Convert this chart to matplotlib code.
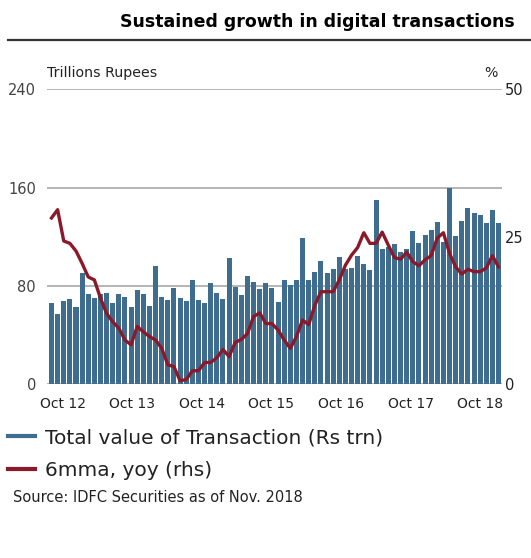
import numpy as np
import matplotlib
matplotlib.use("Agg")
import matplotlib.pyplot as plt
from matplotlib.lines import Line2D

# ---- data ----
total_value = [66, 57, 68, 69.5, 63, 90.6, 73.5, 70, 73.5, 74.3, 66, 73.5, 71,
               63, 76.7, 73.5, 63.7, 96, 71, 68.6, 78.4, 70, 68, 84.9, 68.6,
               66, 82.4, 74.3, 69.5, 102.7, 79.2, 72.7, 88.1, 83.2, 77.5, 82.4,
               78.4, 67, 84.9, 80.8, 84.9, 119, 84.9, 91.4, 100.3, 90.6, 93.9,
               103.6, 93.9, 94.6, 104.4, 97.9, 93, 150, 110, 111.7, 114.1, 107.6,
               110, 124.7, 115, 121.5, 125.6, 132, 115.8, 159.7, 120.7, 132.9,
               143.5, 139.4, 137.8, 131.3, 141.9, 131.3]
yoy_6mma = [28.2, 29.6, 24.3, 23.9, 22.6, 20.5, 18.2, 17.7, 14.6, 12.0, 10.6,
            9.5, 7.5, 6.7, 9.8, 8.9, 8.1, 7.5, 6.1, 3.3, 3.0, 0.6, 0.8, 2.3,
            2.3, 3.7, 3.7, 4.5, 5.9, 4.7, 7.1, 7.6, 8.6, 11.5, 12.1, 10.3, 10.3,
            9.2, 7.5, 6.1, 8.1, 10.9, 10.1, 13.4, 15.7, 15.7, 15.7, 17.7, 20.2,
            21.9, 23.2, 25.7, 23.9, 23.9, 25.8, 23.6, 21.5, 21.2, 22.4, 20.8,
            20.1, 21.1, 21.8, 24.8, 25.7, 22.2, 19.9, 18.7, 19.5, 19.1, 19.1,
            19.7, 21.8, 19.9]
x_labels = ["Oct 12", "Oct 13", "Oct 14", "Oct 15", "Oct 16", "Oct 17", "Oct 18"]
left_ticks = [0, 80, 160, 240]
right_ticks = [0, 25, 50]

title = "Sustained growth in digital transactions"
left_unit = "Trillions Rupees"
right_unit = "%"
legend_labels = ["Total value of Transaction (Rs trn)", "6mma, yoy (rhs)"]
source = "Source: IDFC Securities as of Nov. 2018"

# ---- style ----
BAR_C = "#3f6d90"
LINE_C = "#8a1a2a"
GRID_C = "#b4b4b4"
TXT_C = "#222222"
plt.rcParams['font.family'] = ['DejaVu Sans']

W, H = 531, 558
fig = plt.figure(figsize=(W / 100, H / 100), dpi=100)

def fx(px):
    return px / W

def fy(py):
    return 1 - py / H

ax_l, ax_r, ax_t, ax_b = 47, 502, 89.4, 384.3
ax = fig.add_axes([fx(ax_l), fy(ax_b), fx(ax_r - ax_l), (ax_b - ax_t) / H])
ax2 = ax.twinx()

n = len(total_value)
x = np.arange(n)
ax.bar(x, total_value, width=0.82, color=BAR_C, zorder=2)
ax2.plot(x, yoy_6mma, color=LINE_C, lw=2.4, solid_joinstyle='round', zorder=3)

ax.set_xlim(-0.735, n - 1 + 0.57)
ax.set_ylim(0, 240)
ax2.set_ylim(0, 50)
ax.set_yticks(left_ticks)
ax2.set_yticks(right_ticks)
ax.yaxis.grid(True, color=GRID_C, lw=1.4, zorder=0)
ax.set_axisbelow(True)

tick_pos = 1.8 + 11.37 * np.arange(len(x_labels))
ax.set_xticks(tick_pos)
ax.set_xticklabels(x_labels)

for a in (ax, ax2):
    for s in a.spines.values():
        s.set_visible(False)
ax.tick_params(axis='x', length=0, pad=9, labelsize=10, labelcolor=TXT_C)
ax.tick_params(axis='y', length=0, pad=8, labelsize=10.5, labelcolor="#444444")
ax2.tick_params(axis='y', length=0, pad=2, labelsize=10.5, labelcolor=TXT_C)

# title & rule
fig.text(fx(515), fy(22), title, ha='right', va='center', fontsize=12.5,
         fontweight='bold', color='black')
fig.add_artist(Line2D([fx(8), fx(531)], [fy(40), fy(40)], color='#333333', lw=1.6))

# axis unit labels
fig.text(fx(47), fy(73), left_unit, ha='left', va='center', fontsize=10.2, color=TXT_C)
fig.text(fx(498), fy(73), right_unit, ha='right', va='center', fontsize=10.2, color=TXT_C)

# legend
handles = [Line2D([], [], color=BAR_C, lw=3), Line2D([], [], color=LINE_C, lw=3)]
fig.legend(handles, legend_labels, loc='upper left', bbox_to_anchor=(fx(8), fy(428)),
           frameon=False, fontsize=14.5, handlelength=1.35, handletextpad=0.5,
           labelspacing=0.7, borderaxespad=0, borderpad=0, labelcolor=TXT_C)

fig.text(fx(13), fy(498), source, ha='left', va='center', fontsize=10.5, color=TXT_C)

fig.savefig("out.png", dpi=100)
